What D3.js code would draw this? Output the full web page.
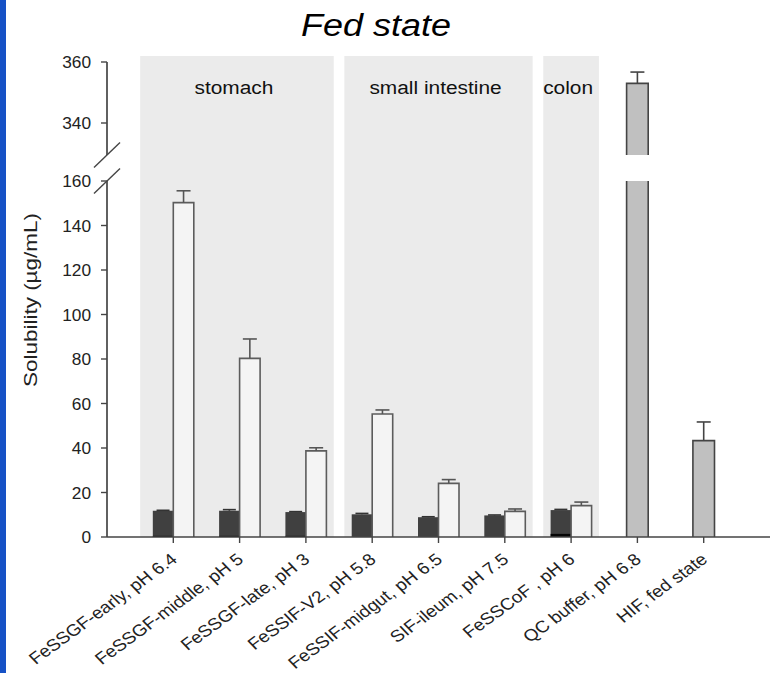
<!DOCTYPE html>
<html>
<head>
<meta charset="utf-8">
<script src="https://cdn.jsdelivr.net/npm/d3@7"></script>
<style>
  body { margin: 0; background: #fff; }
  svg { display: block; font-family: "Liberation Sans", Arial, sans-serif; }
</style>
</head>
<body>
<svg id="chart" width="774" height="673"></svg>
<script>
// data
const categories = ["FeSSGF-early, pH 6.4", "FeSSGF-middle, pH 5", "FeSSGF-late, pH 3",
  "FeSSIF-V2, pH 5.8", "FeSSIF-midgut, pH 6.5", "SIF-ileum, pH 7.5", "FeSSCoF , pH 6",
  "QC buffer, pH 6.8", "HIF, fed state"]

// paired bars (first 7 media)
const darkVals = [11.8, 11.8, 11.2, 10.2, 8.9, 9.7, 12.1]
const darkErr = [12.0, 12.3, 11.4, 10.6, 9.1, 9.9, 12.4]
const blackVals = [0.5, 0.5, 0.5, 0, 0, 0, 1.4]
const whiteVals = [150.3, 80.3, 38.7, 55.3, 24.1, 11.5, 14.1]
const whiteErr = [155.6, 89.0, 40.1, 57.1, 25.8, 12.6, 15.7]

// single bars (QC buffer, HIF)
const greyCats = ["QC buffer, pH 6.8", "HIF, fed state"]
const greyVals = [353, 43.3]
const greyErr = [356.7, 51.7]

const lowTicks = [0, 20, 40, 60, 80, 100, 120, 140, 160]
const highTicks = [340, 360]

const regions = [
  { label: "stomach", first: 0, last: 2 },
  { label: "small intestine", first: 3, last: 5 },
  { label: "colon", first: 6, last: 6 }
]

const svg = d3.select("#chart")
const sx = 1.16   // the figure is a little wider than it is tall

// left blue edge
svg.append("rect").attr("x", 0).attr("y", 0).attr("width", 6).attr("height", 673).attr("fill", "#1652c6")

const x0 = 107, x1 = 770
const x = d3.scalePoint().domain(categories).range([x0, x1]).padding(1)
const step = x.step()

const yLow = d3.scaleLinear().domain([0, 160]).range([537, 181])
const yHigh = d3.scaleLinear().domain([340, 360]).range([123, 62])
const breakTop = 155   // bottom end of upper segment

function yv(v) { return v > 160 ? yHigh(v) : yLow(v) }

// shaded regions
regions.forEach(function (r) {
  let left = x(categories[r.first]) - step * 0.42
  let right = x(categories[r.last]) + step * 0.42
  if (r.first == 0) left = x(categories[0]) - step * 0.5
  svg.append("rect").attr("x", left).attr("y", 56).attr("width", right - left).attr("height", 537 - 56)
    .attr("fill", "#ebebeb")
  let g = svg.append("g")
  let t = g.append("text").text(r.label).attr("font-size", 18).attr("fill", "#111")
    .attr("transform", "scale(" + sx + ",1)")
  let w = t.node().getComputedTextLength() * sx
  if (w > right - left) {
    g.attr("transform", "translate(" + (left + 10) + ",94)")
  } else {
    t.attr("text-anchor", "middle")
    g.attr("transform", "translate(" + ((left + right) / 2 - 3) + ",94)")
  }
})

// bar drawing helper: fill + outline on left, top and right
function bar(xl, w, v, fill, stroke) {
  let segs = []
  if (v > 160) {
    segs.push([yLow(160), yLow(0)])
    segs.push([yHigh(v), breakTop])
  } else {
    segs.push([yLow(v), yLow(0)])
  }
  segs.forEach(function (s, i) {
    svg.append("rect").attr("x", xl).attr("y", s[0]).attr("width", w).attr("height", s[1] - s[0])
      .attr("fill", fill)
    if (stroke) {
      let p = d3.path()
      p.moveTo(xl, s[1]); p.lineTo(xl, s[0])
      if (i == segs.length - 1) p.lineTo(xl + w, s[0])
      else p.moveTo(xl + w, s[0])
      p.lineTo(xl + w, s[1])
      svg.append("path").attr("d", p.toString()).attr("fill", "none")
        .attr("stroke", stroke).attr("stroke-width", 1.6)
    }
  })
}

function errBar(cx, v, e, cap, color) {
  svg.append("line").attr("x1", cx).attr("x2", cx).attr("y1", yv(v)).attr("y2", yv(e))
    .attr("stroke", color).attr("stroke-width", 1.6)
  svg.append("line").attr("x1", cx - cap / 2).attr("x2", cx + cap / 2).attr("y1", yv(e)).attr("y2", yv(e))
    .attr("stroke", color).attr("stroke-width", 1.6)
}

const bw = 20.5
darkVals.forEach(function (v, i) {
  let cx = x(categories[i])
  bar(cx - bw, bw, v, "#404040", null)
  if (blackVals[i] > 0) bar(cx - bw, bw, blackVals[i], "#050505", null)
  errBar(cx - bw / 2, v, darkErr[i], 13, "#333")
})
whiteVals.forEach(function (v, i) {
  let cx = x(categories[i])
  bar(cx, bw, v, "#f4f4f4", "#5c5c5c")
  errBar(cx + bw / 2, v, whiteErr[i], 14, "#555")
})
greyVals.forEach(function (v, i) {
  let cx = x(greyCats[i])
  errBar(cx, v, greyErr[i], 14, "#444")
  bar(cx - 10.8, 21.6, v, "#c0c0c0", "#444")
})

// y axis, two segments with a break
const axisColor = "#454545"
svg.append("line").attr("x1", x0).attr("x2", x0).attr("y1", yHigh(360)).attr("y2", breakTop)
  .attr("stroke", axisColor).attr("stroke-width", 1.7)
svg.append("line").attr("x1", x0).attr("x2", x0).attr("y1", yLow(160)).attr("y2", yLow(0))
  .attr("stroke", axisColor).attr("stroke-width", 1.7)
;[breakTop, yLow(160)].forEach(function (yy) {
  svg.append("line").attr("x1", x0 - 13).attr("x2", x0 + 13).attr("y1", yy + 12.5).attr("y2", yy - 12.5)
    .attr("stroke", axisColor).attr("stroke-width", 1.4)
})

function yTicks(scale, ticks) {
  ticks.forEach(function (t) {
    let yy = scale(t)
    svg.append("line").attr("x1", x0 - 6).attr("x2", x0).attr("y1", yy).attr("y2", yy)
      .attr("stroke", axisColor).attr("stroke-width", 1.4)
    svg.append("g").attr("transform", "translate(91," + (yy + 6) + ")")
      .append("text").text(t).attr("text-anchor", "end").attr("font-size", 16).attr("fill", "#222")
      .attr("transform", "scale(1.08,1)")
  })
}
yTicks(yLow, lowTicks)
yTicks(yHigh, highTicks)

// x axis
svg.append("line").attr("x1", x0).attr("x2", x1).attr("y1", yLow(0)).attr("y2", yLow(0))
  .attr("stroke", axisColor).attr("stroke-width", 1.7)
categories.forEach(function (c) {
  let cx = x(c)
  svg.append("line").attr("x1", cx).attr("x2", cx).attr("y1", yLow(0)).attr("y2", yLow(0) + 6)
    .attr("stroke", axisColor).attr("stroke-width", 1.4)
  svg.append("g").attr("transform", "translate(" + (cx + 5) + ",561) scale(1.15,1) rotate(-40)")
    .append("text").text(c).attr("text-anchor", "end").attr("font-size", 16.5).attr("fill", "#222")
})

// y label
svg.append("text").text("Solubility (µg/mL)")
  .attr("transform", "translate(37,300) rotate(-90)")
  .attr("text-anchor", "middle").attr("font-size", 19).attr("fill", "#222")
  .attr("textLength", 174).attr("lengthAdjust", "spacingAndGlyphs")

// title
svg.append("g").attr("transform", "translate(376,36)")
  .append("text").text("Fed state").attr("text-anchor", "middle").attr("font-size", 31)
  .attr("font-style", "italic").attr("fill", "#000")
  .attr("transform", "scale(" + sx + ",1)")
</script>
</body>
</html>
